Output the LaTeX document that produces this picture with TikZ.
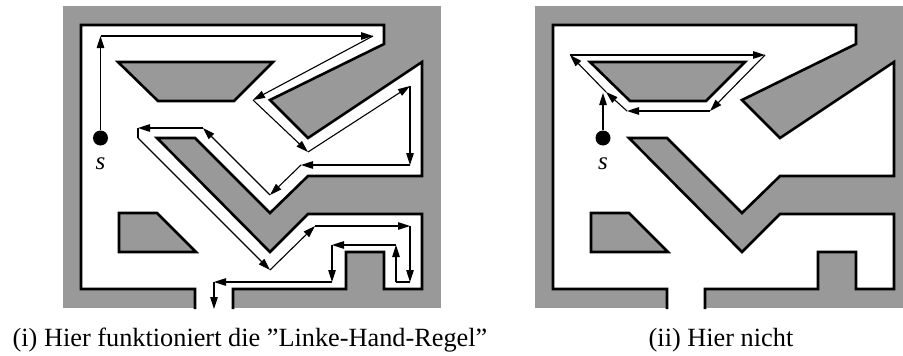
\documentclass[tikz,border=0pt]{standalone}
\usepackage{fontspec}
\setmainfont{Liberation Serif}
\usetikzlibrary{arrows.meta}
\definecolor{mazegray}{RGB}{153,153,153}
\begin{document}
\begin{tikzpicture}[x=1pt,y=-1pt,
  mazewall/.style={draw=black,line width=2.6pt,line join=miter},
  mazeblock/.style={fill=mazegray,draw=black,line width=2.6pt,line join=miter},
  walk/.style={line width=1.1pt,-{Triangle[length=12pt,width=7.5pt]}},
  thinline/.style={line width=1.1pt},
  startdot/.style={circle,fill=black,inner sep=0pt,minimum size=15pt},
  startlbl/.style={font=\fontsize{25}{27}\selectfont\itshape,anchor=base},
  captext/.style={font=\fontsize{26.3}{30}\selectfont,anchor=base}]
\useasboundingbox (0,0) rectangle (903,356);
\clip (0,0) rectangle (903,356);
% ---------- the two mazes ----------
\foreach \dx in {0,472}{
\begin{scope}[xshift=\dx pt]
  \fill[mazegray] (63,6) rectangle (441,308);
  \fill[white] (233,309) -- (233,289) -- (346,289) -- (346,252) -- (384,252) -- (384,289)
     -- (422,289) -- (422,214) -- (308,214) -- (270,252) -- (157,138) -- (195,138)
     -- (270,213) -- (308,176) -- (422,176) -- (422,62) -- (308,138) -- (270,100)
     -- (384,44) -- (384,25) -- (81,25) -- (81,289) -- (195,289) -- (195,309) -- cycle;
  \draw[mazewall] (233,309) -- (233,289) -- (346,289) -- (346,252) -- (384,252) -- (384,289)
     -- (422,289) -- (422,214) -- (308,214) -- (270,252) -- (157,138) -- (195,138)
     -- (270,213) -- (308,176) -- (422,176) -- (422,62) -- (308,138) -- (270,100)
     -- (384,44) -- (384,25) -- (81,25) -- (81,289) -- (195,289) -- (195,309);
  \draw[mazeblock] (118,62) -- (273,62) -- (234,101) -- (158,101) -- cycle;
  \draw[mazeblock] (119,213) -- (157,213) -- (196,252) -- (119,252) -- cycle;
\end{scope}}
% ---------- left: left-hand rule path ----------
\coordinate (p1) at (100.5,36);
\coordinate (p2) at (373,36);
\coordinate (p3) at (253,100);
\coordinate (p4) at (308,152);
\coordinate (p5) at (410,86);
\coordinate (p6) at (410,165);
\coordinate (p7) at (301,165);
\coordinate (p8) at (270,195);
\coordinate (p9) at (203,128);
\coordinate (p10) at (138,128);
\coordinate (p11) at (138,138);
\coordinate (p12) at (270,270);
\coordinate (p13) at (315,226);
\coordinate (p14) at (410,226);
\coordinate (p15) at (410,282);
\coordinate (p16) at (396,282);
\coordinate (p17) at (396,245);
\coordinate (p18) at (332,245);
\coordinate (p19) at (332,282);
\coordinate (p20) at (214,282);
\coordinate (p21) at (214,309);
\node[startdot] (sL) at (100.5,138) {};
\node[startlbl] (sLlbl) at (100.5,169) {s};
\draw[walk] (sL) -- (p1);
\draw[walk] (p1) -- (p2);
\draw[walk] (p2) -- (p3);
\draw[walk] (p3) -- (p4);
\draw[walk] (p4) -- (p5);
\draw[walk] (p5) -- (p6);
\draw[walk] (p6) -- (p7);
\draw[walk] (p7) -- (p8);
\draw[walk] (p8) -- (p9);
\draw[walk] (p9) -- (p10);
\draw[thinline] (p10) -- (p11);
\draw[walk] (p11) -- (p12);
\draw[walk] (p12) -- (p13);
\draw[walk] (p13) -- (p14);
\draw[walk] (p14) -- (p15);
\draw[thinline] (p15) -- (p16);
\draw[walk] (p16) -- (p17);
\draw[walk] (p17) -- (p18);
\draw[walk] (p18) -- (p19);
\draw[walk] (p19) -- (p20);
\draw[walk] (p20) -- (p21);
% ---------- right: endless loop ----------
\coordinate (rj) at (603,93);
\coordinate (ra) at (570,55);
\coordinate (rb) at (765,55);
\coordinate (rc) at (710,111);
\coordinate (rd) at (627,111);
\coordinate (rk) at (606,92);
\node[startdot] (sR) at (603,138) {};
\node[startlbl] (sRlbl) at (603,169) {s};
\draw[walk] (sR) -- (rj);
\draw[walk] (rk) -- (ra);
\draw[walk] (ra) -- (rb);
\draw[walk] (rb) -- (rc);
\draw[walk] (rc) -- (rd);
\draw[walk] (rd) -- (rk);
% ---------- captions ----------
\node[captext] (capL) at (250,346) {(i) Hier funktioniert die ”Linke-Hand-Regel”};
\node[captext] (capR) at (721,346) {(ii) Hier nicht};
\end{tikzpicture}
\end{document}
